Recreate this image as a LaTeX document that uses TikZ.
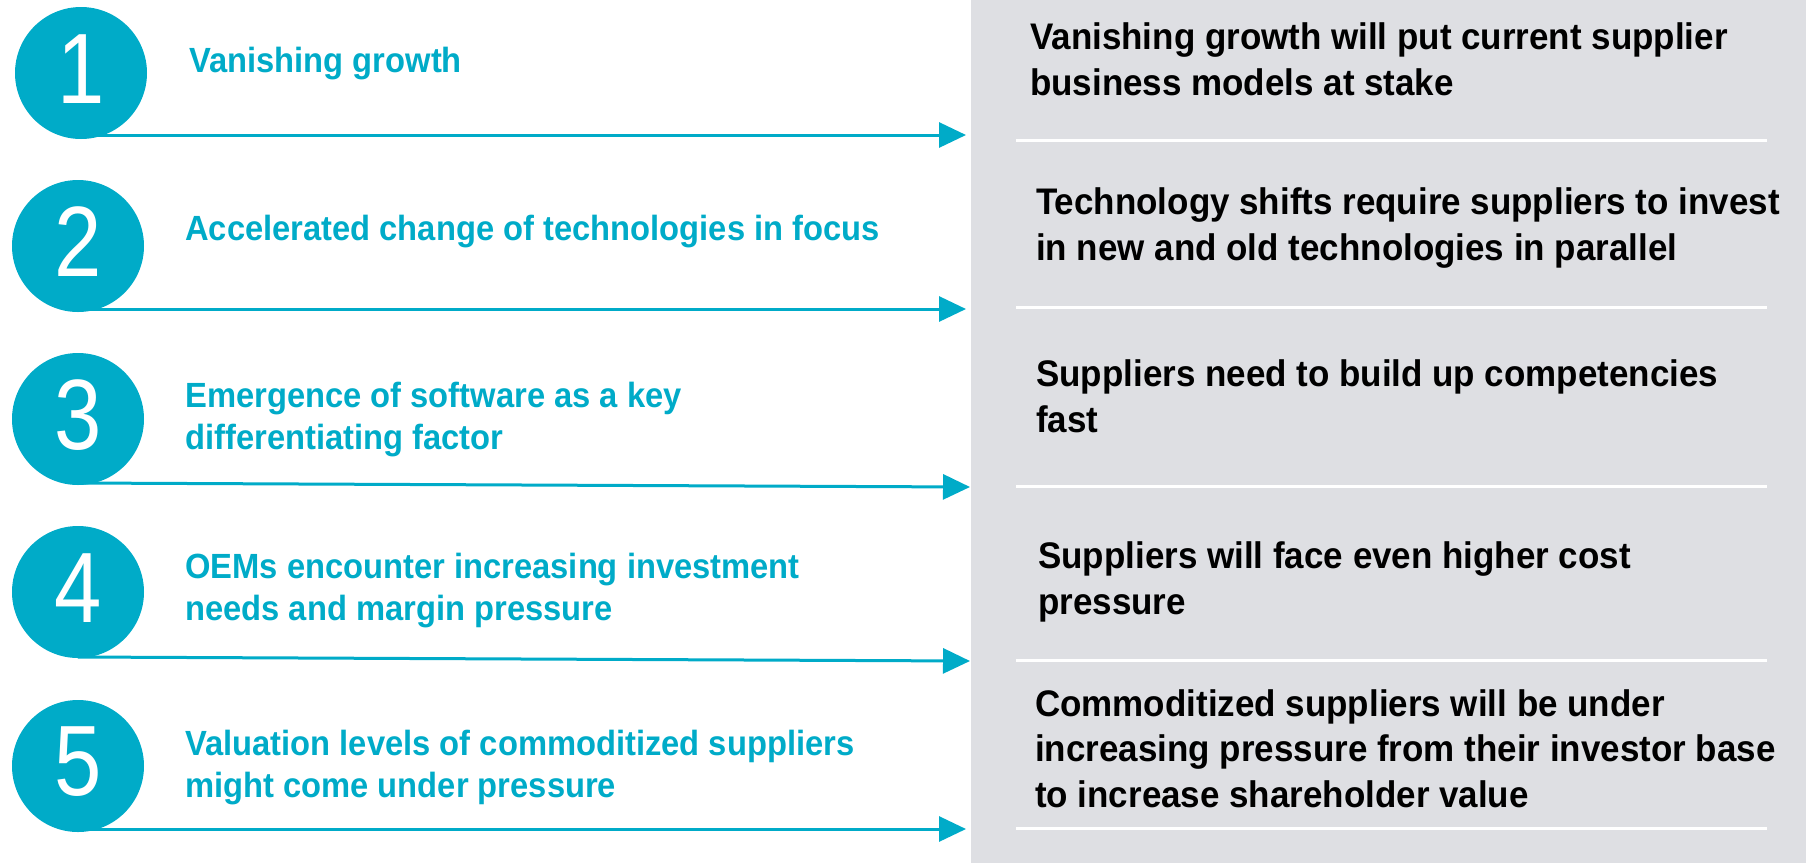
\documentclass[tikz,border=0pt]{standalone}
\usepackage{fontspec}
\setmainfont{Liberation Sans}
\newfontfamily\lefttxt{Liberation Sans}[FakeStretch=0.935]
\newfontfamily\righttxt{Liberation Sans}[FakeStretch=0.945]
\newfontfamily\numfont{Liberation Sans}[FakeStretch=0.85]
\usetikzlibrary{arrows.meta}
\definecolor{teal}{RGB}{0,171,200}
\definecolor{panelgrey}{RGB}{222,223,227}
\tikzset{
  numcircle/.style={circle, fill=teal, minimum size=132pt, inner sep=0pt},
  numtext/.style={text=white, font=\numfont\fontsize{100}{100}\selectfont, inner sep=0pt},
  lefttext/.style={anchor=base west, align=left, inner sep=0pt, text=teal,
    font=\lefttxt\bfseries\fontsize{35}{42}\selectfont},
  righttext/.style={anchor=base west, align=left, inner sep=0pt, text=black,
    font=\righttxt\bfseries\fontsize{37}{45.5}\selectfont},
  arrowline/.style={draw=teal, line width=3pt, -{Triangle[length=27pt, width=25pt]}},
  sepline/.style={draw=white, line width=3pt},
}
\begin{document}
\begin{tikzpicture}[x=1pt, y=-1pt]
\useasboundingbox (0,0) rectangle (1809,863);
\fill[panelgrey] (971,0) rectangle (1806,863);
% separators
\foreach \y in {140,307,486,660,828} \draw[sepline] (1016,\y) -- (1767,\y);
% arrows
\coordinate (s1) at (81,135);  \coordinate (t1) at (966,135);
\coordinate (s2) at (78,309);  \coordinate (t2) at (966,309);
\coordinate (s3) at (78,483);  \coordinate (t3) at (970,487);
\coordinate (s4) at (78,657);  \coordinate (t4) at (970,661);
\coordinate (s5) at (78,829);  \coordinate (t5) at (966,829);
\draw[arrowline] (s1) -- (t1);
\draw[arrowline] (s2) -- (t2);
\draw[arrowline] (s3) -- (t3);
\draw[arrowline] (s4) -- (t4);
\draw[arrowline] (s5) -- (t5);
% circles
\node[numcircle] (c1) at (81,73) {};
\node[numcircle] (c2) at (78,246) {};
\node[numcircle] (c3) at (78,419) {};
\node[numcircle] (c4) at (78,592) {};
\node[numcircle] (c5) at (78,766) {};
\node[numtext] (n1) at (81,69) {1};
\node[numtext] (n2) at (78,242) {2};
\node[numtext] (n3) at (78,415) {3};
\node[numtext] (n4) at (78,588) {4};
\node[numtext] (n5) at (78,762) {5};
% left texts (anchored at the baseline of their last line)
\node[lefttext] (l1) at (189,72) {Vanishing growth};
\node[lefttext] (l2) at (185,240) {Accelerated change of technologies in focus};
\node[lefttext] (l3) at (185,449) {Emergence of software as a key\\differentiating factor};
\node[lefttext] (l4) at (185,620) {OEMs encounter increasing investment\\needs and margin pressure};
\node[lefttext] (l5) at (185,797) {Valuation levels of commoditized suppliers\\might come under pressure};
% right texts (anchored at the baseline of their last line)
\node[righttext] (r1) at (1030,95) {Vanishing growth will put current supplier\\business models at stake};
\node[righttext] (r2) at (1036,260) {Technology shifts require suppliers to invest\\in new and old technologies in parallel};
\node[righttext] (r3) at (1036,432) {Suppliers need to build up competencies\\fast};
\node[righttext] (r4) at (1038,614) {Suppliers will face even higher cost\\pressure};
\node[righttext] (r5) at (1035,807) {Commoditized suppliers will be under\\increasing pressure from their investor base\\to increase shareholder value};
\end{tikzpicture}
\end{document}
